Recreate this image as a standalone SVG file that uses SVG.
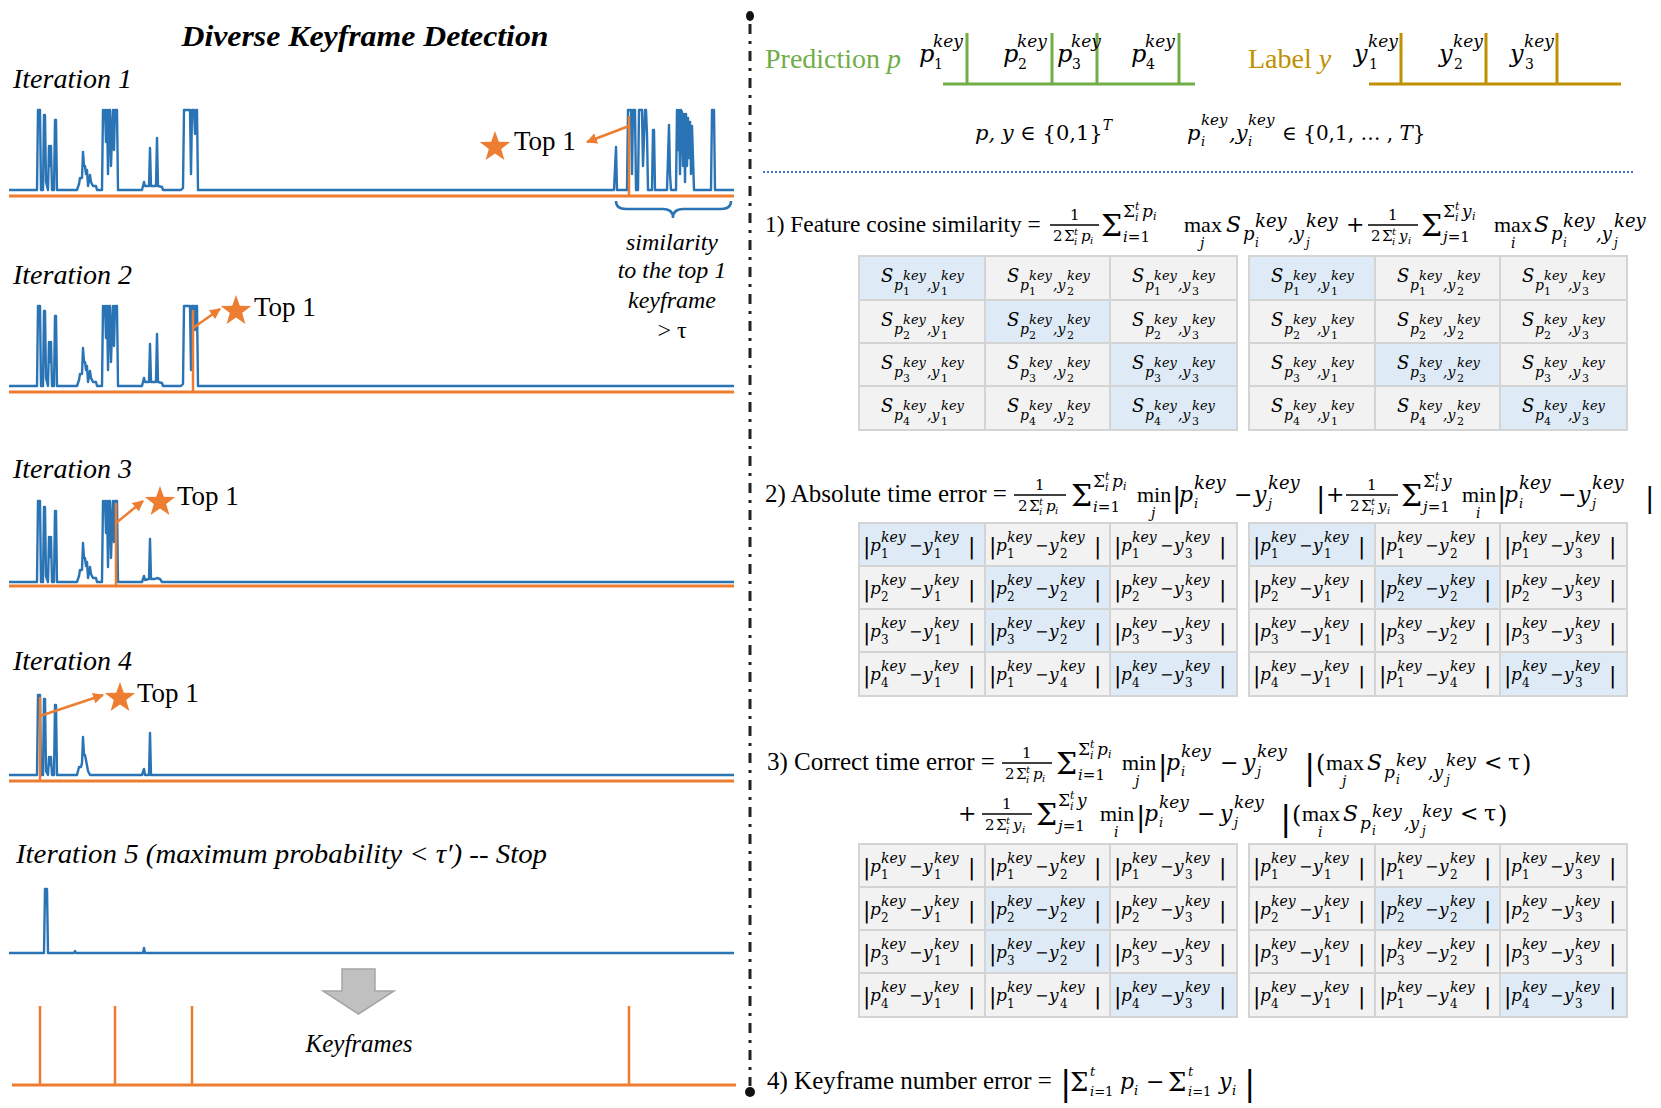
<svg xmlns="http://www.w3.org/2000/svg" width="1661" height="1108" viewBox="0 0 1661 1108">
<defs>
<style>
text{fill:#000}
.T{font-family:"Liberation Serif","Times New Roman",serif;font-size:25px}
.I{font-family:"Liberation Serif","Times New Roman",serif;font-style:italic;font-size:28px}
.top{font-family:"Liberation Serif","Times New Roman",serif;font-size:27px}
.sim{font-family:"Liberation Serif","Times New Roman",serif;font-style:italic;font-size:24px}
.M{font-family:"DejaVu Serif",serif;font-style:italic}
.R{font-family:"DejaVu Serif",serif;font-style:normal}
.L{font-family:"Liberation Serif","Times New Roman",serif;font-style:normal}
.blue{fill:none;stroke:#2a74b5;stroke-width:2.4;stroke-linejoin:round}
.org{fill:none;stroke:#ed7d31;stroke-width:3}
.ov{fill:none;stroke:#ed7d31;stroke-width:2.5}
.fb{stroke:#000;stroke-width:1.3}
.tb{fill:#f2f2f2;stroke:#d4d4d4;stroke-width:2}
.hl{fill:#deebf7}
.gr{fill:none;stroke:#d4d4d4;stroke-width:2}
.s{font-family:"DejaVu Serif",serif;font-style:italic}
.a{font-size:18px}.b{font-size:14px}.c{font-size:13px}.d{font-size:11px;font-style:normal}
.e{font-size:22px;font-style:normal}.f{font-size:17px}.g{font-size:14px}.h{font-size:12px;font-style:normal}.i{font-size:16px;font-style:normal}
</style>
<marker id="ah" viewBox="0 0 10 10" refX="9" refY="5" markerWidth="11" markerHeight="11" markerUnits="userSpaceOnUse" orient="auto"><path d="M0,0L10,5L0,10z" fill="#ed7d31"/></marker>
<path id="star" d="M0,-16L3.82,-5.26L15.22,-4.94L6.18,2.01L9.4,12.94L0,6.5L-9.4,12.94L-6.18,2.01L-15.22,-4.94L-3.82,-5.26Z" fill="#ed7d31"/>
</defs>
<rect width="1661" height="1108" fill="#fff"/>

<!-- LEFT PANEL -->
<g id="title"><text x="365" y="46" text-anchor="middle" font-family="Liberation Serif, serif" font-weight="bold" font-style="italic" font-size="29" textLength="367" lengthAdjust="spacingAndGlyphs">Diverse Keyframe Detection</text></g>

<g id="iter1">
<text class="I" x="13" y="88">Iteration 1</text>
<path class="blue" d="M9,190L37,190L38,110L40,110L41,190L43,190L44,115L45,115L46,182L48,190L49,146L50,166L51,146L52,190L54,190L55,120L56,120L57,190L77,190L79,184L80,178L82,178L83,152L84,166L85,166L86,174L87,170L88,186L90,175L91,182L93,186L96,186L97,190L102,190L103,110L104,114L105,110L106,142L107,110L108,174L109,110L110,110L111,166L112,134L113,110L114,150L115,110L117,110L118,190L142,190L144,182L145,186L149,186L150,148L151,186L156,186L157,138L158,186L162,187L163,190L181,190L183,188L184,110L190,110L191,174L192,110L194,110L195,134L196,110L197,110L198,190L614,190L616,147L617,190L627,190L628,110L631,110L632,174L633,110L635,110L636,190L638,190L639,110L642,110L643,166L645,110L646,110L647,134L648,190L652,190L653,130L654,130L655,190L667,190L668,158L669,125L670,174L671,190L676,190L677,110L678,150L679,110L680,174L681,110L682,112L683,166L684,114L685,182L686,114L687,166L688,118L689,158L690,122L691,174L692,126L694,190L711,190L712,110L714,110L715,190L734,190"/>
<line class="org" x1="9" y1="196" x2="734" y2="196"/>
<line class="ov" x1="629" y1="196" x2="629" y2="116"/>
<use href="#star" x="495" y="147"/>
<text class="top" x="514" y="150">Top 1</text>
<path d="M616,201Q616,209 626,209L663,209Q673,209 673,218Q673,209 683,209L721,209Q731,209 731,201" fill="none" stroke="#2a74b5" stroke-width="2.5"/>
<text class="sim" text-anchor="middle" x="672" y="250">similarity</text>
<text class="sim" text-anchor="middle" x="672" y="278">to the top 1</text>
<text class="sim" text-anchor="middle" x="672" y="308">keyframe</text>
<text class="sim" text-anchor="middle" x="672" y="338" style="font-style:normal">&gt; τ</text>
</g>

<g id="iter2">
<text class="I" x="13" y="284">Iteration 2</text>
<path class="blue" transform="translate(0,196)" d="M9,190L37,190L38,110L40,110L41,190L43,190L44,115L45,115L46,182L48,190L49,146L50,166L51,146L52,190L54,190L55,120L56,120L57,190L77,190L79,184L80,178L82,178L83,152L84,166L85,166L86,174L87,170L88,186L90,175L91,182L93,186L96,186L97,190L102,190L103,110L104,114L105,110L106,142L107,110L108,174L109,110L110,110L111,166L112,134L113,110L114,150L115,110L117,110L118,190L142,190L144,182L145,186L149,186L150,148L151,186L156,186L157,138L158,186L162,187L163,190L181,190L183,188L184,110L190,110L191,174L192,110L194,110L195,134L196,110L197,110L198,190L734,190"/>
<line class="org" x1="9" y1="392" x2="734" y2="392"/>
<line class="ov" x1="193" y1="392" x2="193" y2="310"/>
<use href="#star" x="236" y="311"/>
<text class="top" x="254" y="316">Top 1</text>
</g>

<g id="iter3">
<text class="I" x="13" y="478">Iteration 3</text>
<path class="blue" transform="translate(0,582)" d="M9,0L37,0L38,-81L40,-81L41,0L43,0L44,-75L45,-75L46,-6L48,0L49,-45L50,-25L51,-45L52,0L54,0L55,-71L56,-71L57,0L77,0L79,-6L80,-12L82,-12L83,-39L84,-24L85,-24L86,-16L87,-20L88,-4L90,-15L91,-8L93,-4L96,-4L97,0L102,0L103,-81L104,-77L105,-81L106,-49L107,-81L108,-15L109,-81L110,-81L111,-24L112,-57L113,-81L114,-40L115,-81L117,-81L118,0L142,0L144,-6L145,-2L149,-3L150,-43L151,-3L155,-3L157,-4L160,-3L162,0L734,0"/>
<line class="org" x1="9" y1="586" x2="734" y2="586"/>
<line class="ov" x1="116" y1="586" x2="116" y2="503"/>
<use href="#star" x="160" y="502"/>
<text class="top" x="177" y="505">Top 1</text>
</g>

<g id="iter4">
<text class="I" x="13" y="670">Iteration 4</text>
<path class="blue" transform="translate(0,775)" d="M9,0L37,0L38,-80L40,-80L41,0L43,0L44,-76L45,-76L46,-4L48,0L49,-18L50,-10L51,-18L52,0L54,0L55,-70L56,-70L57,0L77,0L79,-8L81,-8L82,-12L83,-38L84,-20L85,-20L86,-15L88,-4L90,0L142,0L144,-6L145,0L149,0L150,-42L151,0L734,0"/>
<line class="org" x1="9" y1="781" x2="734" y2="781"/>
<line class="ov" x1="40" y1="781" x2="40" y2="697"/>
<use href="#star" x="120" y="698"/>
<text class="top" x="137" y="702">Top 1</text>
</g>

<g id="iter5">
<text class="I" x="16" y="863" textLength="531" lengthAdjust="spacingAndGlyphs">Iteration 5 (maximum probability &lt; τ′) -- Stop</text>
<path class="blue" transform="translate(0,953)" d="M9,0L44,0L45,-64L47,-64L48,0L74,0L75,-2L76,0L143,0L144,-5L145,0L734,0"/>
</g>

<g id="down-arrow"><path d="M342,969H375V991H394L358.5,1014L323,991H342Z" fill="#c0c0c0" stroke="#a5a5a5" stroke-width="1.5"/></g>

<g id="keyframes">
<line class="org" x1="12" y1="1085" x2="736" y2="1085"/>
<path class="ov" d="M40,1085V1006M115,1085V1006M192,1085V1006M629,1085V1006"/>
<text class="sim" x="359" y="1052" text-anchor="middle" style="font-size:25px">Keyframes</text>
</g>

<g id="connectors">
<line class="ov" x1="629" y1="126" x2="587" y2="142" marker-end="url(#ah)"/>
<line class="ov" x1="193" y1="328" x2="220" y2="309" marker-end="url(#ah)"/>
<line class="ov" x1="116" y1="523" x2="143" y2="501" marker-end="url(#ah)"/>
<line class="ov" x1="40" y1="716" x2="103" y2="695" marker-end="url(#ah)"/>
</g>

<!-- DIVIDER -->
<g id="divider">
<line x1="750" y1="24" x2="750" y2="1086" stroke="#222" stroke-width="3" stroke-dasharray="10 7 3 7"/>
<ellipse cx="750" cy="16" rx="4" ry="5" fill="#111"/>
<circle cx="750" cy="1092" r="5" fill="#111"/>
</g>

<!-- TOP RIGHT -->
<g id="prediction">
<text class="T" x="765" y="68" style="fill:#70ad47;font-size:28px">Prediction <tspan font-style="italic">p</tspan></text>
<path d="M943,84H1195M967,84V33M1052,84V33M1097,84V33M1179,84V33" fill="none" stroke="#70ad47" stroke-width="3"/>
<text><tspan class="M" font-size="24" x="919" y="62">p</tspan><tspan class="M" font-size="17" x="933" y="47">key</tspan><tspan class="R" font-size="14" x="934" y="69">1</tspan>
<tspan class="M" font-size="24" x="1003" y="62">p</tspan><tspan class="M" font-size="17" x="1017" y="47">key</tspan><tspan class="R" font-size="14" x="1018" y="69">2</tspan>
<tspan class="M" font-size="24" x="1057" y="62">p</tspan><tspan class="M" font-size="17" x="1071" y="47">key</tspan><tspan class="R" font-size="14" x="1072" y="69">3</tspan>
<tspan class="M" font-size="24" x="1131" y="62">p</tspan><tspan class="M" font-size="17" x="1145" y="47">key</tspan><tspan class="R" font-size="14" x="1146" y="69">4</tspan></text>
</g>
<g id="label">
<text class="T" x="1248" y="68" style="fill:#bf9000;font-size:28px">Label <tspan font-style="italic">y</tspan></text>
<path d="M1369,84H1621M1401,84V33M1486,84V33M1557,84V33" fill="none" stroke="#bf9000" stroke-width="3"/>
<text><tspan class="M" font-size="24" x="1354" y="62">y</tspan><tspan class="M" font-size="17" x="1368" y="47">key</tspan><tspan class="R" font-size="14" x="1369" y="69">1</tspan>
<tspan class="M" font-size="24" x="1439" y="62">y</tspan><tspan class="M" font-size="17" x="1453" y="47">key</tspan><tspan class="R" font-size="14" x="1454" y="69">2</tspan>
<tspan class="M" font-size="24" x="1510" y="62">y</tspan><tspan class="M" font-size="17" x="1524" y="47">key</tspan><tspan class="R" font-size="14" x="1525" y="69">3</tspan></text>
</g>
<g id="domains">
<text y="140"><tspan class="M" font-size="21" x="975">p, y</tspan><tspan class="R" font-size="21"> ∈ {0,1}</tspan><tspan class="M" font-size="14" dy="-10">T</tspan></text>
<text><tspan class="M" font-size="21" x="1187" y="140">p</tspan><tspan class="M" font-size="15" x="1201" y="125">key</tspan><tspan class="M" font-size="13" x="1201" y="146">i</tspan><tspan class="M" font-size="21" x="1229" y="140">,y</tspan><tspan class="M" font-size="15" x="1248" y="125">key</tspan><tspan class="M" font-size="13" x="1248" y="146">i</tspan><tspan class="R" font-size="20" x="1282" y="140">∈ {0,1, … , </tspan><tspan class="M" font-size="20">T</tspan><tspan class="R" font-size="20">}</tspan></text>
<line x1="763" y1="172" x2="1633" y2="172" stroke="#4472c4" stroke-width="2" stroke-dasharray="2 2"/>
</g>

<!-- SECTION 1 -->
<g id="eq1">
<text class="T" x="765" y="232" style="font-size:23.4px">1) Feature cosine similarity =</text>
<line class="fb" x1="1050" y1="225" x2="1099" y2="225"/>
<line class="fb" x1="1368" y1="225" x2="1418" y2="225"/>
<text>
<tspan class="R" font-size="15" x="1070" y="220">1</tspan><tspan class="R" font-size="15" x="1053" y="241">2</tspan><tspan class="R" font-size="15" x="1064" y="241">Σ</tspan><tspan class="M" font-size="10" x="1074" y="235">t</tspan><tspan class="M" font-size="10" x="1074" y="245">i</tspan><tspan class="M" font-size="15" x="1081" y="241">p</tspan><tspan class="M" font-size="10" x="1090" y="244">i</tspan>
<tspan class="R" font-size="30" x="1101" y="236">Σ</tspan>
<tspan class="R" font-size="17" x="1123" y="217">Σ</tspan><tspan class="M" font-size="11" x="1135" y="210">t</tspan><tspan class="M" font-size="11" x="1135" y="221">i</tspan><tspan class="M" font-size="17" x="1142" y="217">p</tspan><tspan class="M" font-size="11" x="1153" y="220">i</tspan>
<tspan class="M" font-size="15" x="1123" y="242">i</tspan><tspan class="R" font-size="15">=1</tspan>
<tspan class="L" font-size="22" x="1184" y="232">max</tspan><tspan class="M" font-size="14" x="1200" y="248">j</tspan>
<tspan class="M" font-size="22" x="1226" y="232">S</tspan><tspan class="M" font-size="18" x="1243" y="240">p</tspan><tspan class="M" font-size="18" x="1255" y="227">key</tspan><tspan class="M" font-size="12" x="1255" y="247">i</tspan><tspan class="M" font-size="18" x="1288" y="240">,y</tspan><tspan class="M" font-size="18" x="1306" y="227">key</tspan><tspan class="M" font-size="12" x="1306" y="247">j</tspan>
<tspan class="R" font-size="22" x="1346" y="232">+</tspan>
<tspan class="R" font-size="15" x="1388" y="220">1</tspan><tspan class="R" font-size="15" x="1371" y="241">2</tspan><tspan class="R" font-size="15" x="1382" y="241">Σ</tspan><tspan class="M" font-size="10" x="1392" y="235">t</tspan><tspan class="M" font-size="10" x="1392" y="245">i</tspan><tspan class="M" font-size="15" x="1399" y="241">y</tspan><tspan class="M" font-size="10" x="1408" y="244">i</tspan>
<tspan class="R" font-size="30" x="1421" y="236">Σ</tspan>
<tspan class="R" font-size="17" x="1443" y="217">Σ</tspan><tspan class="M" font-size="11" x="1455" y="210">t</tspan><tspan class="M" font-size="11" x="1455" y="221">i</tspan><tspan class="M" font-size="17" x="1462" y="217">y</tspan><tspan class="M" font-size="11" x="1472" y="220">i</tspan>
<tspan class="M" font-size="15" x="1443" y="242">j</tspan><tspan class="R" font-size="15">=1</tspan>
<tspan class="L" font-size="22" x="1494" y="232">max</tspan><tspan class="M" font-size="14" x="1511" y="248">i</tspan>
<tspan class="M" font-size="22" x="1534" y="232">S</tspan><tspan class="M" font-size="18" x="1551" y="240">p</tspan><tspan class="M" font-size="18" x="1563" y="227">key</tspan><tspan class="M" font-size="12" x="1563" y="247">i</tspan><tspan class="M" font-size="18" x="1596" y="240">,y</tspan><tspan class="M" font-size="18" x="1614" y="227">key</tspan><tspan class="M" font-size="12" x="1614" y="247">j</tspan>
</text>
</g>

<g id="table1-left">
<rect class="tb" x="859" y="256" width="378" height="174"/>
<rect class="hl" x="860" y="257" width="125" height="43"/><rect class="hl" x="985" y="300" width="125" height="43"/><rect class="hl" x="1110" y="343" width="126" height="43"/><rect class="hl" x="1110" y="386" width="126" height="43"/>
<path class="gr" d="M985,256V430M1110,256V430M859,300H1237M859,343H1237M859,386H1237"/>
<g transform="translate(859,256)"><text class="s"><tspan class="a" x="22" y="26">S</tspan><tspan class="b" x="35" y="34">p</tspan><tspan class="c" x="44" y="24">key</tspan><tspan class="d" x="44" y="39">1</tspan><tspan class="b" x="68" y="34">,y</tspan><tspan class="c" x="82" y="24">key</tspan><tspan class="d" x="82" y="39">1</tspan></text></g>
<g transform="translate(985,256)"><text class="s"><tspan class="a" x="22" y="26">S</tspan><tspan class="b" x="35" y="34">p</tspan><tspan class="c" x="44" y="24">key</tspan><tspan class="d" x="44" y="39">1</tspan><tspan class="b" x="68" y="34">,y</tspan><tspan class="c" x="82" y="24">key</tspan><tspan class="d" x="82" y="39">2</tspan></text></g>
<g transform="translate(1110,256)"><text class="s"><tspan class="a" x="22" y="26">S</tspan><tspan class="b" x="35" y="34">p</tspan><tspan class="c" x="44" y="24">key</tspan><tspan class="d" x="44" y="39">1</tspan><tspan class="b" x="68" y="34">,y</tspan><tspan class="c" x="82" y="24">key</tspan><tspan class="d" x="82" y="39">3</tspan></text></g>
<g transform="translate(859,300)"><text class="s"><tspan class="a" x="22" y="26">S</tspan><tspan class="b" x="35" y="34">p</tspan><tspan class="c" x="44" y="24">key</tspan><tspan class="d" x="44" y="39">2</tspan><tspan class="b" x="68" y="34">,y</tspan><tspan class="c" x="82" y="24">key</tspan><tspan class="d" x="82" y="39">1</tspan></text></g>
<g transform="translate(985,300)"><text class="s"><tspan class="a" x="22" y="26">S</tspan><tspan class="b" x="35" y="34">p</tspan><tspan class="c" x="44" y="24">key</tspan><tspan class="d" x="44" y="39">2</tspan><tspan class="b" x="68" y="34">,y</tspan><tspan class="c" x="82" y="24">key</tspan><tspan class="d" x="82" y="39">2</tspan></text></g>
<g transform="translate(1110,300)"><text class="s"><tspan class="a" x="22" y="26">S</tspan><tspan class="b" x="35" y="34">p</tspan><tspan class="c" x="44" y="24">key</tspan><tspan class="d" x="44" y="39">2</tspan><tspan class="b" x="68" y="34">,y</tspan><tspan class="c" x="82" y="24">key</tspan><tspan class="d" x="82" y="39">3</tspan></text></g>
<g transform="translate(859,343)"><text class="s"><tspan class="a" x="22" y="26">S</tspan><tspan class="b" x="35" y="34">p</tspan><tspan class="c" x="44" y="24">key</tspan><tspan class="d" x="44" y="39">3</tspan><tspan class="b" x="68" y="34">,y</tspan><tspan class="c" x="82" y="24">key</tspan><tspan class="d" x="82" y="39">1</tspan></text></g>
<g transform="translate(985,343)"><text class="s"><tspan class="a" x="22" y="26">S</tspan><tspan class="b" x="35" y="34">p</tspan><tspan class="c" x="44" y="24">key</tspan><tspan class="d" x="44" y="39">3</tspan><tspan class="b" x="68" y="34">,y</tspan><tspan class="c" x="82" y="24">key</tspan><tspan class="d" x="82" y="39">2</tspan></text></g>
<g transform="translate(1110,343)"><text class="s"><tspan class="a" x="22" y="26">S</tspan><tspan class="b" x="35" y="34">p</tspan><tspan class="c" x="44" y="24">key</tspan><tspan class="d" x="44" y="39">3</tspan><tspan class="b" x="68" y="34">,y</tspan><tspan class="c" x="82" y="24">key</tspan><tspan class="d" x="82" y="39">3</tspan></text></g>
<g transform="translate(859,386)"><text class="s"><tspan class="a" x="22" y="26">S</tspan><tspan class="b" x="35" y="34">p</tspan><tspan class="c" x="44" y="24">key</tspan><tspan class="d" x="44" y="39">4</tspan><tspan class="b" x="68" y="34">,y</tspan><tspan class="c" x="82" y="24">key</tspan><tspan class="d" x="82" y="39">1</tspan></text></g>
<g transform="translate(985,386)"><text class="s"><tspan class="a" x="22" y="26">S</tspan><tspan class="b" x="35" y="34">p</tspan><tspan class="c" x="44" y="24">key</tspan><tspan class="d" x="44" y="39">4</tspan><tspan class="b" x="68" y="34">,y</tspan><tspan class="c" x="82" y="24">key</tspan><tspan class="d" x="82" y="39">2</tspan></text></g>
<g transform="translate(1110,386)"><text class="s"><tspan class="a" x="22" y="26">S</tspan><tspan class="b" x="35" y="34">p</tspan><tspan class="c" x="44" y="24">key</tspan><tspan class="d" x="44" y="39">4</tspan><tspan class="b" x="68" y="34">,y</tspan><tspan class="c" x="82" y="24">key</tspan><tspan class="d" x="82" y="39">3</tspan></text></g>
</g>

<g id="table1-right">
<rect class="tb" x="1249" y="256" width="378" height="174"/>
<rect class="hl" x="1250" y="257" width="125" height="43"/><rect class="hl" x="1375" y="343" width="125" height="43"/><rect class="hl" x="1500" y="386" width="126" height="43"/>
<path class="gr" d="M1375,256V430M1500,256V430M1249,300H1627M1249,343H1627M1249,386H1627"/>
<g transform="translate(1249,256)"><text class="s"><tspan class="a" x="22" y="26">S</tspan><tspan class="b" x="35" y="34">p</tspan><tspan class="c" x="44" y="24">key</tspan><tspan class="d" x="44" y="39">1</tspan><tspan class="b" x="68" y="34">,y</tspan><tspan class="c" x="82" y="24">key</tspan><tspan class="d" x="82" y="39">1</tspan></text></g>
<g transform="translate(1375,256)"><text class="s"><tspan class="a" x="22" y="26">S</tspan><tspan class="b" x="35" y="34">p</tspan><tspan class="c" x="44" y="24">key</tspan><tspan class="d" x="44" y="39">1</tspan><tspan class="b" x="68" y="34">,y</tspan><tspan class="c" x="82" y="24">key</tspan><tspan class="d" x="82" y="39">2</tspan></text></g>
<g transform="translate(1500,256)"><text class="s"><tspan class="a" x="22" y="26">S</tspan><tspan class="b" x="35" y="34">p</tspan><tspan class="c" x="44" y="24">key</tspan><tspan class="d" x="44" y="39">1</tspan><tspan class="b" x="68" y="34">,y</tspan><tspan class="c" x="82" y="24">key</tspan><tspan class="d" x="82" y="39">3</tspan></text></g>
<g transform="translate(1249,300)"><text class="s"><tspan class="a" x="22" y="26">S</tspan><tspan class="b" x="35" y="34">p</tspan><tspan class="c" x="44" y="24">key</tspan><tspan class="d" x="44" y="39">2</tspan><tspan class="b" x="68" y="34">,y</tspan><tspan class="c" x="82" y="24">key</tspan><tspan class="d" x="82" y="39">1</tspan></text></g>
<g transform="translate(1375,300)"><text class="s"><tspan class="a" x="22" y="26">S</tspan><tspan class="b" x="35" y="34">p</tspan><tspan class="c" x="44" y="24">key</tspan><tspan class="d" x="44" y="39">2</tspan><tspan class="b" x="68" y="34">,y</tspan><tspan class="c" x="82" y="24">key</tspan><tspan class="d" x="82" y="39">2</tspan></text></g>
<g transform="translate(1500,300)"><text class="s"><tspan class="a" x="22" y="26">S</tspan><tspan class="b" x="35" y="34">p</tspan><tspan class="c" x="44" y="24">key</tspan><tspan class="d" x="44" y="39">2</tspan><tspan class="b" x="68" y="34">,y</tspan><tspan class="c" x="82" y="24">key</tspan><tspan class="d" x="82" y="39">3</tspan></text></g>
<g transform="translate(1249,343)"><text class="s"><tspan class="a" x="22" y="26">S</tspan><tspan class="b" x="35" y="34">p</tspan><tspan class="c" x="44" y="24">key</tspan><tspan class="d" x="44" y="39">3</tspan><tspan class="b" x="68" y="34">,y</tspan><tspan class="c" x="82" y="24">key</tspan><tspan class="d" x="82" y="39">1</tspan></text></g>
<g transform="translate(1375,343)"><text class="s"><tspan class="a" x="22" y="26">S</tspan><tspan class="b" x="35" y="34">p</tspan><tspan class="c" x="44" y="24">key</tspan><tspan class="d" x="44" y="39">3</tspan><tspan class="b" x="68" y="34">,y</tspan><tspan class="c" x="82" y="24">key</tspan><tspan class="d" x="82" y="39">2</tspan></text></g>
<g transform="translate(1500,343)"><text class="s"><tspan class="a" x="22" y="26">S</tspan><tspan class="b" x="35" y="34">p</tspan><tspan class="c" x="44" y="24">key</tspan><tspan class="d" x="44" y="39">3</tspan><tspan class="b" x="68" y="34">,y</tspan><tspan class="c" x="82" y="24">key</tspan><tspan class="d" x="82" y="39">3</tspan></text></g>
<g transform="translate(1249,386)"><text class="s"><tspan class="a" x="22" y="26">S</tspan><tspan class="b" x="35" y="34">p</tspan><tspan class="c" x="44" y="24">key</tspan><tspan class="d" x="44" y="39">4</tspan><tspan class="b" x="68" y="34">,y</tspan><tspan class="c" x="82" y="24">key</tspan><tspan class="d" x="82" y="39">1</tspan></text></g>
<g transform="translate(1375,386)"><text class="s"><tspan class="a" x="22" y="26">S</tspan><tspan class="b" x="35" y="34">p</tspan><tspan class="c" x="44" y="24">key</tspan><tspan class="d" x="44" y="39">4</tspan><tspan class="b" x="68" y="34">,y</tspan><tspan class="c" x="82" y="24">key</tspan><tspan class="d" x="82" y="39">2</tspan></text></g>
<g transform="translate(1500,386)"><text class="s"><tspan class="a" x="22" y="26">S</tspan><tspan class="b" x="35" y="34">p</tspan><tspan class="c" x="44" y="24">key</tspan><tspan class="d" x="44" y="39">4</tspan><tspan class="b" x="68" y="34">,y</tspan><tspan class="c" x="82" y="24">key</tspan><tspan class="d" x="82" y="39">3</tspan></text></g>
</g>

<!-- SECTION 2 -->
<g id="eq2">
<text class="T" x="765" y="502">2) Absolute time error =</text>
<line class="fb" x1="1014" y1="495" x2="1066" y2="495"/>
<line class="fb" x1="1346" y1="495" x2="1398" y2="495"/>
<text>
<tspan class="R" font-size="15" x="1035" y="490">1</tspan><tspan class="R" font-size="15" x="1018" y="511">2</tspan><tspan class="R" font-size="15" x="1029" y="511">Σ</tspan><tspan class="M" font-size="10" x="1039" y="505">t</tspan><tspan class="M" font-size="10" x="1039" y="515">i</tspan><tspan class="M" font-size="15" x="1046" y="511">p</tspan><tspan class="M" font-size="10" x="1055" y="514">i</tspan>
<tspan class="R" font-size="30" x="1071" y="506">Σ</tspan>
<tspan class="R" font-size="17" x="1093" y="487">Σ</tspan><tspan class="M" font-size="11" x="1105" y="480">t</tspan><tspan class="M" font-size="11" x="1105" y="491">i</tspan><tspan class="M" font-size="17" x="1112" y="487">p</tspan><tspan class="M" font-size="11" x="1123" y="490">i</tspan>
<tspan class="M" font-size="15" x="1093" y="512">i</tspan><tspan class="R" font-size="15">=1</tspan>
<tspan class="L" font-size="22" x="1137" y="502">min</tspan><tspan class="M" font-size="14" x="1151" y="518">j</tspan>
<tspan class="R" font-size="28" x="1172" y="507">|</tspan><tspan class="M" font-size="22" x="1179" y="502">p</tspan><tspan class="M" font-size="18" x="1194" y="489">key</tspan><tspan class="M" font-size="13" x="1194" y="508">i</tspan>
<tspan class="R" font-size="22" x="1234" y="502">−</tspan><tspan class="M" font-size="22" x="1254" y="502">y</tspan><tspan class="M" font-size="18" x="1268" y="489">key</tspan><tspan class="M" font-size="13" x="1268" y="508">j</tspan><tspan class="R" font-size="28" x="1316" y="507">|</tspan>
<tspan class="R" font-size="22" x="1326" y="502">+</tspan>
<tspan class="R" font-size="15" x="1367" y="490">1</tspan><tspan class="R" font-size="15" x="1350" y="511">2</tspan><tspan class="R" font-size="15" x="1361" y="511">Σ</tspan><tspan class="M" font-size="10" x="1371" y="505">t</tspan><tspan class="M" font-size="10" x="1371" y="515">i</tspan><tspan class="M" font-size="15" x="1378" y="511">y</tspan><tspan class="M" font-size="10" x="1387" y="514">i</tspan>
<tspan class="R" font-size="30" x="1401" y="506">Σ</tspan>
<tspan class="R" font-size="17" x="1423" y="487">Σ</tspan><tspan class="M" font-size="11" x="1435" y="480">t</tspan><tspan class="M" font-size="11" x="1435" y="491">i</tspan><tspan class="M" font-size="17" x="1442" y="487">y</tspan>
<tspan class="M" font-size="15" x="1423" y="512">j</tspan><tspan class="R" font-size="15">=1</tspan>
<tspan class="L" font-size="22" x="1462" y="502">min</tspan><tspan class="M" font-size="14" x="1476" y="518">i</tspan>
<tspan class="R" font-size="28" x="1497" y="507">|</tspan><tspan class="M" font-size="22" x="1504" y="502">p</tspan><tspan class="M" font-size="18" x="1519" y="489">key</tspan><tspan class="M" font-size="13" x="1519" y="508">i</tspan>
<tspan class="R" font-size="22" x="1558" y="502">−</tspan><tspan class="M" font-size="22" x="1578" y="502">y</tspan><tspan class="M" font-size="18" x="1592" y="489">key</tspan><tspan class="M" font-size="13" x="1592" y="508">j</tspan><tspan class="R" font-size="28" x="1645" y="507">|</tspan>
</text>
</g>

<g id="table2-left">
<rect class="tb" x="859" y="523" width="378" height="173"/>
<rect class="hl" x="860" y="524" width="125" height="42"/><rect class="hl" x="985" y="566" width="125" height="43"/><rect class="hl" x="985" y="609" width="125" height="43"/><rect class="hl" x="1110" y="652" width="126" height="43"/>
<path class="gr" d="M985,523V696M1110,523V696M859,566H1237M859,609H1237M859,652H1237"/>
<g transform="translate(859,523)"><text class="s"><tspan class="e" x="4" y="31">|</tspan><tspan class="f" x="11" y="28">p</tspan><tspan class="g" x="22" y="19">key</tspan><tspan class="h" x="22" y="35">1</tspan><tspan class="i" x="50" y="28">−</tspan><tspan class="f" x="64" y="28">y</tspan><tspan class="g" x="75" y="19">key</tspan><tspan class="h" x="75" y="35">1</tspan><tspan class="e" x="109" y="31">|</tspan></text></g>
<g transform="translate(985,523)"><text class="s"><tspan class="e" x="4" y="31">|</tspan><tspan class="f" x="11" y="28">p</tspan><tspan class="g" x="22" y="19">key</tspan><tspan class="h" x="22" y="35">1</tspan><tspan class="i" x="50" y="28">−</tspan><tspan class="f" x="64" y="28">y</tspan><tspan class="g" x="75" y="19">key</tspan><tspan class="h" x="75" y="35">2</tspan><tspan class="e" x="109" y="31">|</tspan></text></g>
<g transform="translate(1110,523)"><text class="s"><tspan class="e" x="4" y="31">|</tspan><tspan class="f" x="11" y="28">p</tspan><tspan class="g" x="22" y="19">key</tspan><tspan class="h" x="22" y="35">1</tspan><tspan class="i" x="50" y="28">−</tspan><tspan class="f" x="64" y="28">y</tspan><tspan class="g" x="75" y="19">key</tspan><tspan class="h" x="75" y="35">3</tspan><tspan class="e" x="109" y="31">|</tspan></text></g>
<g transform="translate(859,566)"><text class="s"><tspan class="e" x="4" y="31">|</tspan><tspan class="f" x="11" y="28">p</tspan><tspan class="g" x="22" y="19">key</tspan><tspan class="h" x="22" y="35">2</tspan><tspan class="i" x="50" y="28">−</tspan><tspan class="f" x="64" y="28">y</tspan><tspan class="g" x="75" y="19">key</tspan><tspan class="h" x="75" y="35">1</tspan><tspan class="e" x="109" y="31">|</tspan></text></g>
<g transform="translate(985,566)"><text class="s"><tspan class="e" x="4" y="31">|</tspan><tspan class="f" x="11" y="28">p</tspan><tspan class="g" x="22" y="19">key</tspan><tspan class="h" x="22" y="35">2</tspan><tspan class="i" x="50" y="28">−</tspan><tspan class="f" x="64" y="28">y</tspan><tspan class="g" x="75" y="19">key</tspan><tspan class="h" x="75" y="35">2</tspan><tspan class="e" x="109" y="31">|</tspan></text></g>
<g transform="translate(1110,566)"><text class="s"><tspan class="e" x="4" y="31">|</tspan><tspan class="f" x="11" y="28">p</tspan><tspan class="g" x="22" y="19">key</tspan><tspan class="h" x="22" y="35">2</tspan><tspan class="i" x="50" y="28">−</tspan><tspan class="f" x="64" y="28">y</tspan><tspan class="g" x="75" y="19">key</tspan><tspan class="h" x="75" y="35">3</tspan><tspan class="e" x="109" y="31">|</tspan></text></g>
<g transform="translate(859,609)"><text class="s"><tspan class="e" x="4" y="31">|</tspan><tspan class="f" x="11" y="28">p</tspan><tspan class="g" x="22" y="19">key</tspan><tspan class="h" x="22" y="35">3</tspan><tspan class="i" x="50" y="28">−</tspan><tspan class="f" x="64" y="28">y</tspan><tspan class="g" x="75" y="19">key</tspan><tspan class="h" x="75" y="35">1</tspan><tspan class="e" x="109" y="31">|</tspan></text></g>
<g transform="translate(985,609)"><text class="s"><tspan class="e" x="4" y="31">|</tspan><tspan class="f" x="11" y="28">p</tspan><tspan class="g" x="22" y="19">key</tspan><tspan class="h" x="22" y="35">3</tspan><tspan class="i" x="50" y="28">−</tspan><tspan class="f" x="64" y="28">y</tspan><tspan class="g" x="75" y="19">key</tspan><tspan class="h" x="75" y="35">2</tspan><tspan class="e" x="109" y="31">|</tspan></text></g>
<g transform="translate(1110,609)"><text class="s"><tspan class="e" x="4" y="31">|</tspan><tspan class="f" x="11" y="28">p</tspan><tspan class="g" x="22" y="19">key</tspan><tspan class="h" x="22" y="35">3</tspan><tspan class="i" x="50" y="28">−</tspan><tspan class="f" x="64" y="28">y</tspan><tspan class="g" x="75" y="19">key</tspan><tspan class="h" x="75" y="35">3</tspan><tspan class="e" x="109" y="31">|</tspan></text></g>
<g transform="translate(859,652)"><text class="s"><tspan class="e" x="4" y="31">|</tspan><tspan class="f" x="11" y="28">p</tspan><tspan class="g" x="22" y="19">key</tspan><tspan class="h" x="22" y="35">4</tspan><tspan class="i" x="50" y="28">−</tspan><tspan class="f" x="64" y="28">y</tspan><tspan class="g" x="75" y="19">key</tspan><tspan class="h" x="75" y="35">1</tspan><tspan class="e" x="109" y="31">|</tspan></text></g>
<g transform="translate(985,652)"><text class="s"><tspan class="e" x="4" y="31">|</tspan><tspan class="f" x="11" y="28">p</tspan><tspan class="g" x="22" y="19">key</tspan><tspan class="h" x="22" y="35">1</tspan><tspan class="i" x="50" y="28">−</tspan><tspan class="f" x="64" y="28">y</tspan><tspan class="g" x="75" y="19">key</tspan><tspan class="h" x="75" y="35">4</tspan><tspan class="e" x="109" y="31">|</tspan></text></g>
<g transform="translate(1110,652)"><text class="s"><tspan class="e" x="4" y="31">|</tspan><tspan class="f" x="11" y="28">p</tspan><tspan class="g" x="22" y="19">key</tspan><tspan class="h" x="22" y="35">4</tspan><tspan class="i" x="50" y="28">−</tspan><tspan class="f" x="64" y="28">y</tspan><tspan class="g" x="75" y="19">key</tspan><tspan class="h" x="75" y="35">3</tspan><tspan class="e" x="109" y="31">|</tspan></text></g>
</g>

<g id="table2-right">
<rect class="tb" x="1249" y="523" width="378" height="173"/>
<rect class="hl" x="1250" y="524" width="125" height="42"/><rect class="hl" x="1375" y="566" width="125" height="43"/><rect class="hl" x="1500" y="652" width="126" height="43"/>
<path class="gr" d="M1375,523V696M1500,523V696M1249,566H1627M1249,609H1627M1249,652H1627"/>
<g transform="translate(1249,523)"><text class="s"><tspan class="e" x="4" y="31">|</tspan><tspan class="f" x="11" y="28">p</tspan><tspan class="g" x="22" y="19">key</tspan><tspan class="h" x="22" y="35">1</tspan><tspan class="i" x="50" y="28">−</tspan><tspan class="f" x="64" y="28">y</tspan><tspan class="g" x="75" y="19">key</tspan><tspan class="h" x="75" y="35">1</tspan><tspan class="e" x="109" y="31">|</tspan></text></g>
<g transform="translate(1375,523)"><text class="s"><tspan class="e" x="4" y="31">|</tspan><tspan class="f" x="11" y="28">p</tspan><tspan class="g" x="22" y="19">key</tspan><tspan class="h" x="22" y="35">1</tspan><tspan class="i" x="50" y="28">−</tspan><tspan class="f" x="64" y="28">y</tspan><tspan class="g" x="75" y="19">key</tspan><tspan class="h" x="75" y="35">2</tspan><tspan class="e" x="109" y="31">|</tspan></text></g>
<g transform="translate(1500,523)"><text class="s"><tspan class="e" x="4" y="31">|</tspan><tspan class="f" x="11" y="28">p</tspan><tspan class="g" x="22" y="19">key</tspan><tspan class="h" x="22" y="35">1</tspan><tspan class="i" x="50" y="28">−</tspan><tspan class="f" x="64" y="28">y</tspan><tspan class="g" x="75" y="19">key</tspan><tspan class="h" x="75" y="35">3</tspan><tspan class="e" x="109" y="31">|</tspan></text></g>
<g transform="translate(1249,566)"><text class="s"><tspan class="e" x="4" y="31">|</tspan><tspan class="f" x="11" y="28">p</tspan><tspan class="g" x="22" y="19">key</tspan><tspan class="h" x="22" y="35">2</tspan><tspan class="i" x="50" y="28">−</tspan><tspan class="f" x="64" y="28">y</tspan><tspan class="g" x="75" y="19">key</tspan><tspan class="h" x="75" y="35">1</tspan><tspan class="e" x="109" y="31">|</tspan></text></g>
<g transform="translate(1375,566)"><text class="s"><tspan class="e" x="4" y="31">|</tspan><tspan class="f" x="11" y="28">p</tspan><tspan class="g" x="22" y="19">key</tspan><tspan class="h" x="22" y="35">2</tspan><tspan class="i" x="50" y="28">−</tspan><tspan class="f" x="64" y="28">y</tspan><tspan class="g" x="75" y="19">key</tspan><tspan class="h" x="75" y="35">2</tspan><tspan class="e" x="109" y="31">|</tspan></text></g>
<g transform="translate(1500,566)"><text class="s"><tspan class="e" x="4" y="31">|</tspan><tspan class="f" x="11" y="28">p</tspan><tspan class="g" x="22" y="19">key</tspan><tspan class="h" x="22" y="35">2</tspan><tspan class="i" x="50" y="28">−</tspan><tspan class="f" x="64" y="28">y</tspan><tspan class="g" x="75" y="19">key</tspan><tspan class="h" x="75" y="35">3</tspan><tspan class="e" x="109" y="31">|</tspan></text></g>
<g transform="translate(1249,609)"><text class="s"><tspan class="e" x="4" y="31">|</tspan><tspan class="f" x="11" y="28">p</tspan><tspan class="g" x="22" y="19">key</tspan><tspan class="h" x="22" y="35">3</tspan><tspan class="i" x="50" y="28">−</tspan><tspan class="f" x="64" y="28">y</tspan><tspan class="g" x="75" y="19">key</tspan><tspan class="h" x="75" y="35">1</tspan><tspan class="e" x="109" y="31">|</tspan></text></g>
<g transform="translate(1375,609)"><text class="s"><tspan class="e" x="4" y="31">|</tspan><tspan class="f" x="11" y="28">p</tspan><tspan class="g" x="22" y="19">key</tspan><tspan class="h" x="22" y="35">3</tspan><tspan class="i" x="50" y="28">−</tspan><tspan class="f" x="64" y="28">y</tspan><tspan class="g" x="75" y="19">key</tspan><tspan class="h" x="75" y="35">2</tspan><tspan class="e" x="109" y="31">|</tspan></text></g>
<g transform="translate(1500,609)"><text class="s"><tspan class="e" x="4" y="31">|</tspan><tspan class="f" x="11" y="28">p</tspan><tspan class="g" x="22" y="19">key</tspan><tspan class="h" x="22" y="35">3</tspan><tspan class="i" x="50" y="28">−</tspan><tspan class="f" x="64" y="28">y</tspan><tspan class="g" x="75" y="19">key</tspan><tspan class="h" x="75" y="35">3</tspan><tspan class="e" x="109" y="31">|</tspan></text></g>
<g transform="translate(1249,652)"><text class="s"><tspan class="e" x="4" y="31">|</tspan><tspan class="f" x="11" y="28">p</tspan><tspan class="g" x="22" y="19">key</tspan><tspan class="h" x="22" y="35">4</tspan><tspan class="i" x="50" y="28">−</tspan><tspan class="f" x="64" y="28">y</tspan><tspan class="g" x="75" y="19">key</tspan><tspan class="h" x="75" y="35">1</tspan><tspan class="e" x="109" y="31">|</tspan></text></g>
<g transform="translate(1375,652)"><text class="s"><tspan class="e" x="4" y="31">|</tspan><tspan class="f" x="11" y="28">p</tspan><tspan class="g" x="22" y="19">key</tspan><tspan class="h" x="22" y="35">1</tspan><tspan class="i" x="50" y="28">−</tspan><tspan class="f" x="64" y="28">y</tspan><tspan class="g" x="75" y="19">key</tspan><tspan class="h" x="75" y="35">4</tspan><tspan class="e" x="109" y="31">|</tspan></text></g>
<g transform="translate(1500,652)"><text class="s"><tspan class="e" x="4" y="31">|</tspan><tspan class="f" x="11" y="28">p</tspan><tspan class="g" x="22" y="19">key</tspan><tspan class="h" x="22" y="35">4</tspan><tspan class="i" x="50" y="28">−</tspan><tspan class="f" x="64" y="28">y</tspan><tspan class="g" x="75" y="19">key</tspan><tspan class="h" x="75" y="35">3</tspan><tspan class="e" x="109" y="31">|</tspan></text></g>
</g>

<!-- SECTION 3 -->
<g id="eq3">
<text class="T" x="767" y="770">3) Correct time error =</text>
<line class="fb" x1="1002" y1="763" x2="1052" y2="763"/>
<line class="fb" x1="982" y1="814" x2="1032" y2="814"/>
<text>
<tspan class="R" font-size="15" x="1022" y="758">1</tspan><tspan class="R" font-size="15" x="1005" y="779">2</tspan><tspan class="R" font-size="15" x="1016" y="779">Σ</tspan><tspan class="M" font-size="10" x="1026" y="773">t</tspan><tspan class="M" font-size="10" x="1026" y="783">i</tspan><tspan class="M" font-size="15" x="1033" y="779">p</tspan><tspan class="M" font-size="10" x="1042" y="782">i</tspan>
<tspan class="R" font-size="30" x="1056" y="774">Σ</tspan>
<tspan class="R" font-size="17" x="1078" y="755">Σ</tspan><tspan class="M" font-size="11" x="1090" y="748">t</tspan><tspan class="M" font-size="11" x="1090" y="759">i</tspan><tspan class="M" font-size="17" x="1097" y="755">p</tspan><tspan class="M" font-size="11" x="1108" y="758">i</tspan>
<tspan class="M" font-size="15" x="1078" y="780">i</tspan><tspan class="R" font-size="15">=1</tspan>
<tspan class="L" font-size="22" x="1122" y="770">min</tspan><tspan class="M" font-size="14" x="1135" y="786">j</tspan>
<tspan class="R" font-size="28" x="1158" y="775">|</tspan><tspan class="M" font-size="22" x="1166" y="770">p</tspan><tspan class="M" font-size="17" x="1181" y="757">key</tspan><tspan class="M" font-size="13" x="1181" y="776">i</tspan>
<tspan class="R" font-size="22" x="1220" y="770">−</tspan><tspan class="M" font-size="22" x="1243" y="770">y</tspan><tspan class="M" font-size="17" x="1257" y="757">key</tspan><tspan class="M" font-size="13" x="1257" y="776">j</tspan><tspan class="R" font-size="34" x="1304" y="779">|</tspan>
<tspan class="R" font-size="24" x="1316" y="772">(</tspan><tspan class="L" font-size="22" x="1326" y="770">max</tspan><tspan class="M" font-size="14" x="1342" y="786">j</tspan>
<tspan class="M" font-size="22" x="1367" y="770">S</tspan><tspan class="M" font-size="17" x="1384" y="778">p</tspan><tspan class="M" font-size="17" x="1396" y="766">key</tspan><tspan class="M" font-size="12" x="1396" y="784">i</tspan><tspan class="M" font-size="17" x="1428" y="778">,y</tspan><tspan class="M" font-size="17" x="1446" y="766">key</tspan><tspan class="M" font-size="12" x="1446" y="784">j</tspan>
<tspan class="R" font-size="22" x="1484" y="770">&lt;</tspan><tspan class="R" font-size="22" x="1508" y="770">τ</tspan><tspan class="R" font-size="24" x="1522" y="772">)</tspan>
<tspan class="R" font-size="22" x="958" y="821">+</tspan>
<tspan class="R" font-size="15" x="1002" y="809">1</tspan><tspan class="R" font-size="15" x="985" y="830">2</tspan><tspan class="R" font-size="15" x="996" y="830">Σ</tspan><tspan class="M" font-size="10" x="1006" y="824">t</tspan><tspan class="M" font-size="10" x="1006" y="834">i</tspan><tspan class="M" font-size="15" x="1013" y="830">y</tspan><tspan class="M" font-size="10" x="1022" y="833">i</tspan>
<tspan class="R" font-size="30" x="1036" y="825">Σ</tspan>
<tspan class="R" font-size="17" x="1058" y="806">Σ</tspan><tspan class="M" font-size="11" x="1070" y="799">t</tspan><tspan class="M" font-size="11" x="1070" y="810">i</tspan><tspan class="M" font-size="17" x="1077" y="806">y</tspan>
<tspan class="M" font-size="15" x="1058" y="831">j</tspan><tspan class="R" font-size="15">=1</tspan>
<tspan class="L" font-size="22" x="1100" y="821">min</tspan><tspan class="M" font-size="14" x="1114" y="837">i</tspan>
<tspan class="R" font-size="28" x="1136" y="826">|</tspan><tspan class="M" font-size="22" x="1144" y="821">p</tspan><tspan class="M" font-size="17" x="1159" y="808">key</tspan><tspan class="M" font-size="13" x="1159" y="827">i</tspan>
<tspan class="R" font-size="22" x="1197" y="821">−</tspan><tspan class="M" font-size="22" x="1220" y="821">y</tspan><tspan class="M" font-size="17" x="1234" y="808">key</tspan><tspan class="M" font-size="13" x="1234" y="827">j</tspan><tspan class="R" font-size="34" x="1280" y="830">|</tspan>
<tspan class="R" font-size="24" x="1292" y="823">(</tspan><tspan class="L" font-size="22" x="1302" y="821">max</tspan><tspan class="M" font-size="14" x="1318" y="837">i</tspan>
<tspan class="M" font-size="22" x="1343" y="821">S</tspan><tspan class="M" font-size="17" x="1360" y="829">p</tspan><tspan class="M" font-size="17" x="1372" y="817">key</tspan><tspan class="M" font-size="12" x="1372" y="835">i</tspan><tspan class="M" font-size="17" x="1404" y="829">,y</tspan><tspan class="M" font-size="17" x="1422" y="817">key</tspan><tspan class="M" font-size="12" x="1422" y="835">j</tspan>
<tspan class="R" font-size="22" x="1460" y="821">&lt;</tspan><tspan class="R" font-size="22" x="1484" y="821">τ</tspan><tspan class="R" font-size="24" x="1498" y="823">)</tspan>
</text>
</g>

<g id="table3-left">
<rect class="tb" x="859" y="844" width="378" height="173"/>
<rect class="hl" x="985" y="887" width="125" height="43"/><rect class="hl" x="985" y="930" width="125" height="43"/><rect class="hl" x="1110" y="973" width="126" height="43"/>
<path class="gr" d="M985,844V1017M1110,844V1017M859,887H1237M859,930H1237M859,973H1237"/>
<g transform="translate(859,844)"><text class="s"><tspan class="e" x="4" y="31">|</tspan><tspan class="f" x="11" y="28">p</tspan><tspan class="g" x="22" y="19">key</tspan><tspan class="h" x="22" y="35">1</tspan><tspan class="i" x="50" y="28">−</tspan><tspan class="f" x="64" y="28">y</tspan><tspan class="g" x="75" y="19">key</tspan><tspan class="h" x="75" y="35">1</tspan><tspan class="e" x="109" y="31">|</tspan></text></g>
<g transform="translate(985,844)"><text class="s"><tspan class="e" x="4" y="31">|</tspan><tspan class="f" x="11" y="28">p</tspan><tspan class="g" x="22" y="19">key</tspan><tspan class="h" x="22" y="35">1</tspan><tspan class="i" x="50" y="28">−</tspan><tspan class="f" x="64" y="28">y</tspan><tspan class="g" x="75" y="19">key</tspan><tspan class="h" x="75" y="35">2</tspan><tspan class="e" x="109" y="31">|</tspan></text></g>
<g transform="translate(1110,844)"><text class="s"><tspan class="e" x="4" y="31">|</tspan><tspan class="f" x="11" y="28">p</tspan><tspan class="g" x="22" y="19">key</tspan><tspan class="h" x="22" y="35">1</tspan><tspan class="i" x="50" y="28">−</tspan><tspan class="f" x="64" y="28">y</tspan><tspan class="g" x="75" y="19">key</tspan><tspan class="h" x="75" y="35">3</tspan><tspan class="e" x="109" y="31">|</tspan></text></g>
<g transform="translate(859,887)"><text class="s"><tspan class="e" x="4" y="31">|</tspan><tspan class="f" x="11" y="28">p</tspan><tspan class="g" x="22" y="19">key</tspan><tspan class="h" x="22" y="35">2</tspan><tspan class="i" x="50" y="28">−</tspan><tspan class="f" x="64" y="28">y</tspan><tspan class="g" x="75" y="19">key</tspan><tspan class="h" x="75" y="35">1</tspan><tspan class="e" x="109" y="31">|</tspan></text></g>
<g transform="translate(985,887)"><text class="s"><tspan class="e" x="4" y="31">|</tspan><tspan class="f" x="11" y="28">p</tspan><tspan class="g" x="22" y="19">key</tspan><tspan class="h" x="22" y="35">2</tspan><tspan class="i" x="50" y="28">−</tspan><tspan class="f" x="64" y="28">y</tspan><tspan class="g" x="75" y="19">key</tspan><tspan class="h" x="75" y="35">2</tspan><tspan class="e" x="109" y="31">|</tspan></text></g>
<g transform="translate(1110,887)"><text class="s"><tspan class="e" x="4" y="31">|</tspan><tspan class="f" x="11" y="28">p</tspan><tspan class="g" x="22" y="19">key</tspan><tspan class="h" x="22" y="35">2</tspan><tspan class="i" x="50" y="28">−</tspan><tspan class="f" x="64" y="28">y</tspan><tspan class="g" x="75" y="19">key</tspan><tspan class="h" x="75" y="35">3</tspan><tspan class="e" x="109" y="31">|</tspan></text></g>
<g transform="translate(859,930)"><text class="s"><tspan class="e" x="4" y="31">|</tspan><tspan class="f" x="11" y="28">p</tspan><tspan class="g" x="22" y="19">key</tspan><tspan class="h" x="22" y="35">3</tspan><tspan class="i" x="50" y="28">−</tspan><tspan class="f" x="64" y="28">y</tspan><tspan class="g" x="75" y="19">key</tspan><tspan class="h" x="75" y="35">1</tspan><tspan class="e" x="109" y="31">|</tspan></text></g>
<g transform="translate(985,930)"><text class="s"><tspan class="e" x="4" y="31">|</tspan><tspan class="f" x="11" y="28">p</tspan><tspan class="g" x="22" y="19">key</tspan><tspan class="h" x="22" y="35">3</tspan><tspan class="i" x="50" y="28">−</tspan><tspan class="f" x="64" y="28">y</tspan><tspan class="g" x="75" y="19">key</tspan><tspan class="h" x="75" y="35">2</tspan><tspan class="e" x="109" y="31">|</tspan></text></g>
<g transform="translate(1110,930)"><text class="s"><tspan class="e" x="4" y="31">|</tspan><tspan class="f" x="11" y="28">p</tspan><tspan class="g" x="22" y="19">key</tspan><tspan class="h" x="22" y="35">3</tspan><tspan class="i" x="50" y="28">−</tspan><tspan class="f" x="64" y="28">y</tspan><tspan class="g" x="75" y="19">key</tspan><tspan class="h" x="75" y="35">3</tspan><tspan class="e" x="109" y="31">|</tspan></text></g>
<g transform="translate(859,973)"><text class="s"><tspan class="e" x="4" y="31">|</tspan><tspan class="f" x="11" y="28">p</tspan><tspan class="g" x="22" y="19">key</tspan><tspan class="h" x="22" y="35">4</tspan><tspan class="i" x="50" y="28">−</tspan><tspan class="f" x="64" y="28">y</tspan><tspan class="g" x="75" y="19">key</tspan><tspan class="h" x="75" y="35">1</tspan><tspan class="e" x="109" y="31">|</tspan></text></g>
<g transform="translate(985,973)"><text class="s"><tspan class="e" x="4" y="31">|</tspan><tspan class="f" x="11" y="28">p</tspan><tspan class="g" x="22" y="19">key</tspan><tspan class="h" x="22" y="35">1</tspan><tspan class="i" x="50" y="28">−</tspan><tspan class="f" x="64" y="28">y</tspan><tspan class="g" x="75" y="19">key</tspan><tspan class="h" x="75" y="35">4</tspan><tspan class="e" x="109" y="31">|</tspan></text></g>
<g transform="translate(1110,973)"><text class="s"><tspan class="e" x="4" y="31">|</tspan><tspan class="f" x="11" y="28">p</tspan><tspan class="g" x="22" y="19">key</tspan><tspan class="h" x="22" y="35">4</tspan><tspan class="i" x="50" y="28">−</tspan><tspan class="f" x="64" y="28">y</tspan><tspan class="g" x="75" y="19">key</tspan><tspan class="h" x="75" y="35">3</tspan><tspan class="e" x="109" y="31">|</tspan></text></g>
</g>

<g id="table3-right">
<rect class="tb" x="1249" y="844" width="378" height="173"/>
<rect class="hl" x="1375" y="887" width="125" height="43"/><rect class="hl" x="1500" y="973" width="126" height="43"/>
<path class="gr" d="M1375,844V1017M1500,844V1017M1249,887H1627M1249,930H1627M1249,973H1627"/>
<g transform="translate(1249,844)"><text class="s"><tspan class="e" x="4" y="31">|</tspan><tspan class="f" x="11" y="28">p</tspan><tspan class="g" x="22" y="19">key</tspan><tspan class="h" x="22" y="35">1</tspan><tspan class="i" x="50" y="28">−</tspan><tspan class="f" x="64" y="28">y</tspan><tspan class="g" x="75" y="19">key</tspan><tspan class="h" x="75" y="35">1</tspan><tspan class="e" x="109" y="31">|</tspan></text></g>
<g transform="translate(1375,844)"><text class="s"><tspan class="e" x="4" y="31">|</tspan><tspan class="f" x="11" y="28">p</tspan><tspan class="g" x="22" y="19">key</tspan><tspan class="h" x="22" y="35">1</tspan><tspan class="i" x="50" y="28">−</tspan><tspan class="f" x="64" y="28">y</tspan><tspan class="g" x="75" y="19">key</tspan><tspan class="h" x="75" y="35">2</tspan><tspan class="e" x="109" y="31">|</tspan></text></g>
<g transform="translate(1500,844)"><text class="s"><tspan class="e" x="4" y="31">|</tspan><tspan class="f" x="11" y="28">p</tspan><tspan class="g" x="22" y="19">key</tspan><tspan class="h" x="22" y="35">1</tspan><tspan class="i" x="50" y="28">−</tspan><tspan class="f" x="64" y="28">y</tspan><tspan class="g" x="75" y="19">key</tspan><tspan class="h" x="75" y="35">3</tspan><tspan class="e" x="109" y="31">|</tspan></text></g>
<g transform="translate(1249,887)"><text class="s"><tspan class="e" x="4" y="31">|</tspan><tspan class="f" x="11" y="28">p</tspan><tspan class="g" x="22" y="19">key</tspan><tspan class="h" x="22" y="35">2</tspan><tspan class="i" x="50" y="28">−</tspan><tspan class="f" x="64" y="28">y</tspan><tspan class="g" x="75" y="19">key</tspan><tspan class="h" x="75" y="35">1</tspan><tspan class="e" x="109" y="31">|</tspan></text></g>
<g transform="translate(1375,887)"><text class="s"><tspan class="e" x="4" y="31">|</tspan><tspan class="f" x="11" y="28">p</tspan><tspan class="g" x="22" y="19">key</tspan><tspan class="h" x="22" y="35">2</tspan><tspan class="i" x="50" y="28">−</tspan><tspan class="f" x="64" y="28">y</tspan><tspan class="g" x="75" y="19">key</tspan><tspan class="h" x="75" y="35">2</tspan><tspan class="e" x="109" y="31">|</tspan></text></g>
<g transform="translate(1500,887)"><text class="s"><tspan class="e" x="4" y="31">|</tspan><tspan class="f" x="11" y="28">p</tspan><tspan class="g" x="22" y="19">key</tspan><tspan class="h" x="22" y="35">2</tspan><tspan class="i" x="50" y="28">−</tspan><tspan class="f" x="64" y="28">y</tspan><tspan class="g" x="75" y="19">key</tspan><tspan class="h" x="75" y="35">3</tspan><tspan class="e" x="109" y="31">|</tspan></text></g>
<g transform="translate(1249,930)"><text class="s"><tspan class="e" x="4" y="31">|</tspan><tspan class="f" x="11" y="28">p</tspan><tspan class="g" x="22" y="19">key</tspan><tspan class="h" x="22" y="35">3</tspan><tspan class="i" x="50" y="28">−</tspan><tspan class="f" x="64" y="28">y</tspan><tspan class="g" x="75" y="19">key</tspan><tspan class="h" x="75" y="35">1</tspan><tspan class="e" x="109" y="31">|</tspan></text></g>
<g transform="translate(1375,930)"><text class="s"><tspan class="e" x="4" y="31">|</tspan><tspan class="f" x="11" y="28">p</tspan><tspan class="g" x="22" y="19">key</tspan><tspan class="h" x="22" y="35">3</tspan><tspan class="i" x="50" y="28">−</tspan><tspan class="f" x="64" y="28">y</tspan><tspan class="g" x="75" y="19">key</tspan><tspan class="h" x="75" y="35">2</tspan><tspan class="e" x="109" y="31">|</tspan></text></g>
<g transform="translate(1500,930)"><text class="s"><tspan class="e" x="4" y="31">|</tspan><tspan class="f" x="11" y="28">p</tspan><tspan class="g" x="22" y="19">key</tspan><tspan class="h" x="22" y="35">3</tspan><tspan class="i" x="50" y="28">−</tspan><tspan class="f" x="64" y="28">y</tspan><tspan class="g" x="75" y="19">key</tspan><tspan class="h" x="75" y="35">3</tspan><tspan class="e" x="109" y="31">|</tspan></text></g>
<g transform="translate(1249,973)"><text class="s"><tspan class="e" x="4" y="31">|</tspan><tspan class="f" x="11" y="28">p</tspan><tspan class="g" x="22" y="19">key</tspan><tspan class="h" x="22" y="35">4</tspan><tspan class="i" x="50" y="28">−</tspan><tspan class="f" x="64" y="28">y</tspan><tspan class="g" x="75" y="19">key</tspan><tspan class="h" x="75" y="35">1</tspan><tspan class="e" x="109" y="31">|</tspan></text></g>
<g transform="translate(1375,973)"><text class="s"><tspan class="e" x="4" y="31">|</tspan><tspan class="f" x="11" y="28">p</tspan><tspan class="g" x="22" y="19">key</tspan><tspan class="h" x="22" y="35">1</tspan><tspan class="i" x="50" y="28">−</tspan><tspan class="f" x="64" y="28">y</tspan><tspan class="g" x="75" y="19">key</tspan><tspan class="h" x="75" y="35">4</tspan><tspan class="e" x="109" y="31">|</tspan></text></g>
<g transform="translate(1500,973)"><text class="s"><tspan class="e" x="4" y="31">|</tspan><tspan class="f" x="11" y="28">p</tspan><tspan class="g" x="22" y="19">key</tspan><tspan class="h" x="22" y="35">4</tspan><tspan class="i" x="50" y="28">−</tspan><tspan class="f" x="64" y="28">y</tspan><tspan class="g" x="75" y="19">key</tspan><tspan class="h" x="75" y="35">3</tspan><tspan class="e" x="109" y="31">|</tspan></text></g>
</g>

<!-- SECTION 4 -->
<g id="eq4">
<text class="T" x="767" y="1089">4) Keyframe number error =</text>
<text>
<tspan class="R" font-size="34" x="1060" y="1095">|</tspan><tspan class="R" font-size="26" x="1070" y="1091">Σ</tspan><tspan class="M" font-size="13" x="1090" y="1076">t</tspan><tspan class="M" font-size="13" x="1090" y="1096">i</tspan><tspan class="R" font-size="13">=1</tspan>
<tspan class="M" font-size="22" x="1120" y="1089">p</tspan><tspan class="M" font-size="13" x="1134" y="1095">i</tspan>
<tspan class="R" font-size="22" x="1146" y="1089">−</tspan>
<tspan class="R" font-size="26" x="1168" y="1091">Σ</tspan><tspan class="M" font-size="13" x="1188" y="1076">t</tspan><tspan class="M" font-size="13" x="1188" y="1096">i</tspan><tspan class="R" font-size="13">=1</tspan>
<tspan class="M" font-size="22" x="1219" y="1089">y</tspan><tspan class="M" font-size="13" x="1232" y="1095">i</tspan><tspan class="R" font-size="34" x="1244" y="1095">|</tspan>
</text>
</g>
</svg>
